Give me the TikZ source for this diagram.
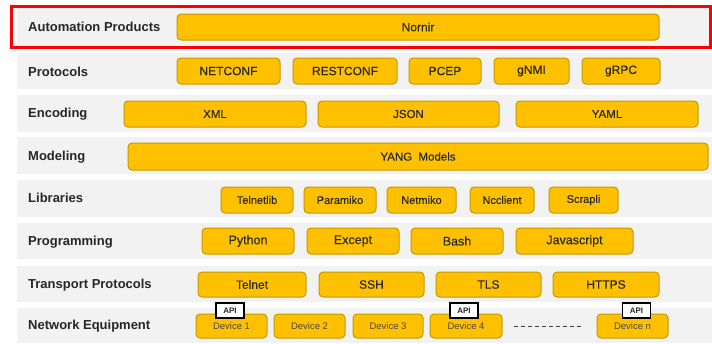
\documentclass[tikz,border=0pt]{standalone}
\usepackage{fontspec}
\setmainfont{Liberation Sans}
\newfontfamily\semibfont[FakeBold=0.4]{Liberation Sans}
\definecolor{bandgray}{HTML}{F2F2F2}
\definecolor{gold}{HTML}{FFC000}
\definecolor{goldedge}{HTML}{C49A00}
\definecolor{txt}{HTML}{2B2B2B}
\definecolor{devtxt}{HTML}{4A4A4A}
\definecolor{redline}{HTML}{FF0000}
\begin{document}
\begin{tikzpicture}[x=1pt,y=-1pt,
  band/.style={fill=bandgray,draw=none},
  rowlab/.style={anchor=west,font=\fontsize{13}{15}\selectfont\bfseries,text=black!85,inner sep=0pt},
  gbox/.style={draw=goldedge,fill=gold,line width=1pt,rounded corners=4pt,inner sep=0pt,text=txt,font=\semibfont\fontsize{12}{14}\selectfont,minimum height=26pt},
  devbox/.style={gbox,minimum height=24pt,text=devtxt,font=\fontsize{9.5}{11}\selectfont},
  apibox/.style={draw=black,fill=white,line width=1.3pt,inner sep=0pt,minimum width=28pt,minimum height=15pt,font=\fontsize{8}{9}\selectfont\bfseries,text=black!85}
]
\useasboundingbox (0,0) rectangle (712,343);
\fill[white] (0,0) rectangle (712,343);
% bands
\fill[band] (17,8) rectangle (712,46);
\fill[band] (17,53) rectangle (712,89);
\fill[band] (17,95) rectangle (712,132);
\fill[band] (17,137) rectangle (712,174);
\fill[band] (17,180) rectangle (712,217);
\fill[band] (17,223) rectangle (712,259);
\fill[band] (17,266) rectangle (712,302);
\fill[band] (17,308) rectangle (712,343);
% red frame
\draw[redline,line width=3pt] (11,6) rectangle (710,47);
% row labels
\node[rowlab] (l1) at (28,27) {Automation Products};
\node[rowlab] (l2) at (28,72) {Protocols};
\node[rowlab] (l3) at (28,114) {Encoding};
\node[rowlab] (l4) at (28,157) {Modeling};
\node[rowlab] (l5) at (28,198) {Libraries};
\node[rowlab] (l6) at (28,242) {Programming};
\node[rowlab] (l7) at (28,285) {Transport Protocols};
\node[rowlab] (l8) at (28,326) {Network Equipment};
% row 1
\node[gbox,minimum width=482pt] (nornir) at (418,27) {Nornir};
% row 2
\node[gbox,minimum width=103pt] (netconf) at (228.5,71) {NETCONF};
\node[gbox,minimum width=104pt] (restconf) at (345,71) {RESTCONF};
\node[gbox,minimum width=72pt] (pcep) at (445,71) {PCEP};
\node[gbox,minimum width=75pt] (gnmi) at (531.5,71) {gNMI};
\node[gbox,minimum width=78pt] (grpc) at (621,71) {gRPC};
% row 3
\node[gbox,minimum width=182pt,font=\semibfont\fontsize{11.5}{13}\selectfont] (xml) at (215,114) {XML};
\node[gbox,minimum width=181pt,font=\semibfont\fontsize{11.5}{13}\selectfont] (json) at (408.5,114) {JSON};
\node[gbox,minimum width=182pt,font=\semibfont\fontsize{11.5}{13}\selectfont] (yaml) at (607,114) {YAML};
% row 4
\node[gbox,minimum width=580pt,minimum height=27pt,font=\semibfont\fontsize{11.5}{13}\selectfont] (yang) at (418,156.5) {YANG\ \ Models};
% row 5
\node[gbox,minimum width=72pt,font=\semibfont\fontsize{11}{13}\selectfont] (telnetlib) at (257,200) {Telnetlib};
\node[gbox,minimum width=72pt,font=\semibfont\fontsize{11}{13}\selectfont] (paramiko) at (340,200) {Paramiko};
\node[gbox,minimum width=69pt,font=\semibfont\fontsize{11}{13}\selectfont] (netmiko) at (421.5,200) {Netmiko};
\node[gbox,minimum width=64pt,font=\semibfont\fontsize{11}{13}\selectfont] (ncclient) at (502,200) {Ncclient};
\node[gbox,minimum width=69pt,font=\semibfont\fontsize{11}{13}\selectfont] (scrapli) at (583.5,200) {Scrapli};
% row 6
\node[gbox,minimum width=92pt,font=\semibfont\fontsize{12.5}{14}\selectfont] (python) at (248,241) {Python};
\node[gbox,minimum width=92pt,font=\semibfont\fontsize{12.5}{14}\selectfont] (except) at (353,241) {Except};
\node[gbox,minimum width=92pt,font=\semibfont\fontsize{12.5}{14}\selectfont] (bash) at (457,241) {Bash};
\node[gbox,minimum width=117pt,font=\semibfont\fontsize{12.5}{14}\selectfont] (javascript) at (574.5,241) {Javascript};
% row 7
\node[gbox,minimum width=108pt,minimum height=25pt] (telnet) at (252,284.5) {Telnet};
\node[gbox,minimum width=105pt,minimum height=25pt] (ssh) at (371.5,284.5) {SSH};
\node[gbox,minimum width=105pt,minimum height=25pt] (tls) at (488.5,284.5) {TLS};
\node[gbox,minimum width=106pt,minimum height=25pt] (https) at (606,284.5) {HTTPS};
% row 8
\node[devbox,minimum width=71pt] (d1) at (231.5,326) {Device 1};
\node[devbox,minimum width=71pt] (d2) at (309.5,326) {Device 2};
\node[devbox,minimum width=70pt] (d3) at (388,326) {Device 3};
\node[devbox,minimum width=72pt] (d4) at (466,326) {Device 4};
\node[devbox,minimum width=71pt] (dn) at (632.5,326) {Device n};
\draw[black!75,line width=1pt,dash pattern=on 4pt off 3pt] ([xshift=11pt]d4.east) -- ([xshift=-14pt]dn.west);
\node[apibox] (api1) at (230,310.5) {API};
\node[apibox] (api4) at (464,310.5) {API};
\node[apibox] (apin) at (636.5,310.5) {API};
\end{tikzpicture}
\end{document}
